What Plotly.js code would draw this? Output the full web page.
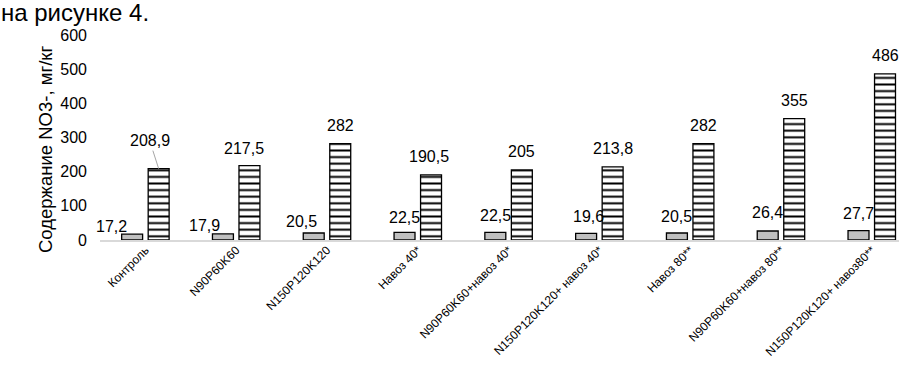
<!DOCTYPE html>
<html>
<head>
<meta charset="utf-8">
<script src="https://cdn.plot.ly/plotly-3.0.1.min.js"></script>
<style>
  html, body { margin: 0; padding: 0; background: #ffffff; }
  #chart { width: 899px; height: 365px; }
</style>
</head>
<body>
<div id="chart"></div>
<script>
// ---- data ----
const categories = [
  "Контроль",
  "N90P60K60",
  "N150P120K120",
  "Навоз 40*",
  "N90P60K60+навоз 40*",
  "N150P120K120+ навоз 40*",
  "Навоз 80**",
  "N90P60K60+навоз 80**",
  "N150P120K120+ навоз80**"
];
const series1 = [17.2, 17.9, 20.5, 22.5, 22.5, 19.6, 20.5, 26.4, 27.7];
const series2 = [208.9, 217.5, 282, 190.5, 205, 213.8, 282, 355, 486];
const yTickVals = [0, 100, 200, 300, 400, 500, 600];
const yTickText = ["0", "100", "200", "300", "400", "500", "600"];
const topText = "на рисунке 4.";
const yTitle = "Содержание NO3-, мг/кг";

// ---- label placement (pixel offsets, style only) ----
const s1LabelDx = [-21, -18, -12, 0, 0, 2, 0, 0, 0];
const s1LabelDy = [8, 8, 12, 15, 17, 17, 17, 18, 17];
const s2LabelDx = [-9, -5, 0, -2, 0, 0, 0, 0, 0];
const s2LabelDy = [28, 17, 18, 18, 18, 18, 18, 18, 18];

function fmt(v) { return String(v).replace('.', ','); }

const FONT = 'Liberation Sans, Arial, sans-serif';
const barHalf = 13.25;
const annotations = [];
categories.forEach((c, i) => {
  annotations.push({
    x: c, y: series1[i], xref: 'x', yref: 'y',
    text: fmt(series1[i]), showarrow: false,
    xshift: -barHalf + s1LabelDx[i], yshift: s1LabelDy[i],
    xanchor: 'center', yanchor: 'middle',
    font: {family: FONT, size: 16, color: '#000'}
  });
  if (i === 0) {
    annotations.push({
      x: c, y: series2[i], xref: 'x', yref: 'y',
      text: fmt(series2[i]), showarrow: true, arrowhead: 0,
      arrowcolor: '#a6a6a6', arrowwidth: 1,
      ax: s2LabelDx[i], ay: -s2LabelDy[i], standoff: 0,
      xshift: barHalf,
      font: {family: FONT, size: 16, color: '#000'}
    });
  } else {
    annotations.push({
      x: c, y: series2[i], xref: 'x', yref: 'y',
      text: fmt(series2[i]), showarrow: false,
      xshift: barHalf + s2LabelDx[i], yshift: s2LabelDy[i],
      xanchor: 'center', yanchor: 'middle',
      font: {family: FONT, size: 16, color: '#000'}
    });
  }
});

// text fragment above the chart
annotations.push({
  xref: 'paper', yref: 'paper', x: -100/799, y: (240 - 13) / 205,
  xanchor: 'left', yanchor: 'middle', showarrow: false, xshift: -1,
  text: topText,
  font: {family: FONT, size: 24, color: '#000'}
});
// y-axis title
annotations.push({
  xref: 'paper', yref: 'paper', x: (45 - 100)/799, y: (240 - 149) / 205,
  xanchor: 'center', yanchor: 'middle', showarrow: false, textangle: -90,
  text: yTitle,
  font: {family: FONT, size: 18.5, color: '#000'}
});

const traces = [
  {
    type: 'bar', x: categories, y: series1,
    marker: {color: '#c0c0c0', line: {color: '#000', width: 1.3}},
    hoverinfo: 'none'
  },
  {
    type: 'bar', x: categories, y: series2,
    marker: {
      color: '#ffffff',
      line: {color: '#000', width: 1.3},
      pattern: {shape: '-', fgcolor: '#000', bgcolor: '#ffffff', size: 6.6, solidity: 0.3, fillmode: 'replace'}
    },
    hoverinfo: 'none'
  }
];

const layout = {
  width: 899, height: 365,
  margin: {l: 100, r: 0, t: 35, b: 125, pad: 0},
  paper_bgcolor: '#ffffff', plot_bgcolor: '#ffffff',
  showlegend: false,
  barmode: 'group', bargap: 0.416, bargroupgap: 0.21,
  font: {family: FONT, color: '#000'},
  xaxis: {
    type: 'category', range: [-0.5, 8.3],
    tickangle: -45, showgrid: false, zeroline: false,
    showline: true, linecolor: '#d9d9d9', linewidth: 1.5,
    ticks: '', ticklabelstandoff: -3,
    tickfont: {family: FONT, size: 12, color: '#000'}
  },
  yaxis: {
    range: [0, 600], tickvals: yTickVals, ticktext: yTickText,
    showgrid: false, zeroline: false, showline: false, ticks: '',
    ticklabelstandoff: 12,
    tickfont: {family: FONT, size: 16, color: '#000'}
  },
  annotations: annotations
};

Plotly.newPlot('chart', traces, layout, {displayModeBar: false, staticPlot: true});
</script>
</body>
</html>
